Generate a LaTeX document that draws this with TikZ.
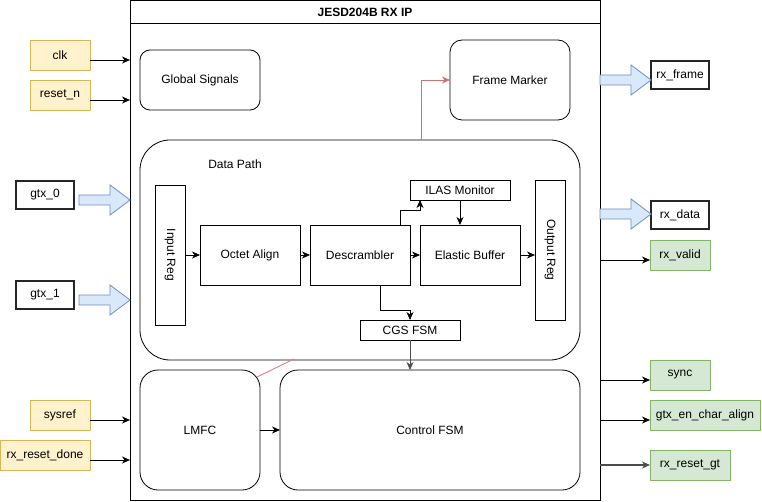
\documentclass[tikz,border=0pt]{standalone}
\usepackage{fontspec}
\setmainfont{Liberation Sans}
\usetikzlibrary{arrows.meta,calc}
\definecolor{yelf}{HTML}{FFF2CC}
\definecolor{yeld}{HTML}{D6B656}
\definecolor{grnf}{HTML}{D5E8D4}
\definecolor{grnd}{HTML}{82B366}
\definecolor{bluf}{HTML}{DAE8FC}
\definecolor{blud}{HTML}{6C8EBF}
\definecolor{redl}{HTML}{B85450}
\definecolor{redf}{HTML}{E08080}
\newcommand\flexarr[2]{%
  \path[draw=blud, fill=bluf, line width=0.8pt] let \p1=(#1), \p2=(#2) in
    (\x1,\y1+5pt) -- (\x2-20pt,\y1+5pt) -- (\x2-20pt,\y1+15pt) -- (\x2,\y1)
    -- (\x2-20pt,\y1-15pt) -- (\x2-20pt,\y1-5pt) -- (\x1,\y1-5pt) -- cycle;}
\begin{document}
\begin{tikzpicture}[x=1pt,y=-1pt,
  font=\fontsize{12}{14}\selectfont,
  every node/.style={inner sep=0pt, outer sep=0pt},
  sz/.style 2 args={minimum width=#1pt, minimum height=#2pt},
  blk/.style={draw, line width=0.8pt},
  rblk/.style={draw, line width=0.8pt, rounded corners=#1pt},
  inbox/.style={draw=yeld, fill=yelf, line width=0.8pt, minimum height=30pt},
  outbox/.style={draw=grnd, fill=grnf, line width=0.8pt, minimum height=30pt},
  portbox/.style={draw=black!85, line width=1.8pt, minimum width=58pt, minimum height=28pt},
  arr/.style={line width=0.8pt, -{Stealth[length=8pt,width=7pt,inset=2.5pt]}},
  garr/.style={arr, draw=black!70, line width=1.2pt, -{Stealth[length=8pt,width=7pt,inset=2.5pt]}},
  redarr/.style={draw=redl!80, line width=0.8pt, -{Stealth[length=8pt,width=7pt,inset=2.5pt]}}
]
\useasboundingbox (0,0) rectangle (762,502);

% container
\node[blk, sz={470}{500}] (ip) at (365,250) {};
\draw[line width=0.8pt] ($(ip.north west)+(0,23)$) -- ($(ip.north east)+(0,23)$);
\node (title) at (365,12) {\textbf{JESD204B RX IP}};

% inputs
\node[inbox, minimum width=60pt] (clk) at (60,55) {clk};
\node[inbox, minimum width=60pt] (rstn) at (60,95) {reset\_n};
\node[inbox, minimum width=60pt] (sysref) at (60,415) {sysref};
\node[inbox, minimum width=90pt] (rrd) at (45,455) {rx\_reset\_done};
\node[portbox] (g0) at (45,195) {gtx\_0};
\node[portbox] (g1) at (45,295) {gtx\_1};

% outputs
\node[portbox] (rxf) at (680,75) {rx\_frame};
\node[portbox] (rxd) at (680,215) {rx\_data};
\node[outbox, minimum width=60pt] (rxv) at (680,255) {rx\_valid};
\node[outbox, minimum width=60pt] (sync) at (680,375) {sync};
\node[outbox, minimum width=110pt] (gec) at (705,415) {gtx\_en\_char\_align};
\node[outbox, minimum width=80pt] (rgt) at (690,465) {rx\_reset\_gt};

% internal blocks
\node[rblk=10, sz={120}{60}] (gs) at (200,80) {Global Signals};
\node[rblk=12, sz={120}{80}] (fm) at (510,80) {Frame Marker};
\node[rblk=30, sz={440}{220}] (dp) at (360,250) {};
\node (dpl) at (235,164) {Data Path};
\node[blk, sz={30}{140}] (ir) at (170,255) {};
\node[rotate=-90] at (ir.center) {Input Reg};
\node[blk, sz={100}{60}] (oa) at (250,255) {Octet Align};
\node[blk, sz={100}{60}] (ds) at (360,255) {Descrambler};
\node[blk, sz={100}{60}] (eb) at (470,255) {Elastic Buffer};
\node[blk, sz={100}{20}] (ilas) at (460,190) {ILAS Monitor};
\node[blk, sz={30}{140}] (orr) at (550,250) {};
\node[rotate=-90] at (orr.center) {Output Reg};
\node[blk, sz={100}{20}] (cgs) at (410,330) {CGS FSM};
\node[rblk=18, sz={120}{120}] (lmfc) at (200,430) {LMFC};
\node[rblk=18, sz={300}{120}] (cfsm) at (430,430) {Control FSM};

% input arrows
\foreach \n in {clk,rstn,sysref,rrd}{
  \draw[arr] ($(\n.east)+(0,5)$) coordinate (\n s) -- (\n s -| ip.west);
}
\coordinate (g0a) at ($(g0.east)+(5,5)$);
\flexarr{g0a}{g0a -| ip.west}
\coordinate (g1a) at ($(g1.east)+(5,5)$);
\flexarr{g1a}{g1a -| ip.west}

% output arrows
\coordinate (rxfa) at ($(ip.east |- rxf.west)+(0,5)$);
\flexarr{rxfa}{rxfa -| rxf.west}
\coordinate (rxda) at ($(ip.east |- rxd.west)+(0,-1)$);
\flexarr{rxda}{rxda -| rxd.west}
\foreach \n in {rxv,sync,gec}{
  \draw[arr] ($(ip.east |- \n.west)+(0,5)$) coordinate (\n s) -- (\n s -| \n.west);
}
\draw[garr] (ip.east |- rgt.west) -- (rgt.west);

% internal arrows
\draw[arr] (ir.east |- oa.west) -- (oa.west);
\draw[arr] (oa.east) -- (ds.west);
\draw[arr] (ds.east) -- (eb.west);
\draw[arr] (eb.east) -- (eb.east -| orr.west);
\draw[arr] ($(ds.north)+(40,0)$) -- ++(0,-15) -| ($(ilas.south west)+(10,0)$);
\draw[arr] (ilas.south) -- (ilas.south |- eb.north);
\draw[arr] ($(ds.south)+(20,0)$) |- ($(cgs.north)+(0,-10)$) -- (cgs.north);
\draw[garr, line width=0.8pt] (cgs.south) -- (cgs.south |- cfsm.north);
\draw[arr] (lmfc.east) -- (cfsm.west);

% red connectors
\coordinate (fmsrc) at ($(dp.north west)+(281,0)$);
\draw[redarr] (fmsrc) |- (fm.west);
\coordinate (r1) at (257,377);
\coordinate (r2) at (294,359);
\draw[draw=redf, line width=0.9pt] (r1) -- (r2);
\end{tikzpicture}
\end{document}
